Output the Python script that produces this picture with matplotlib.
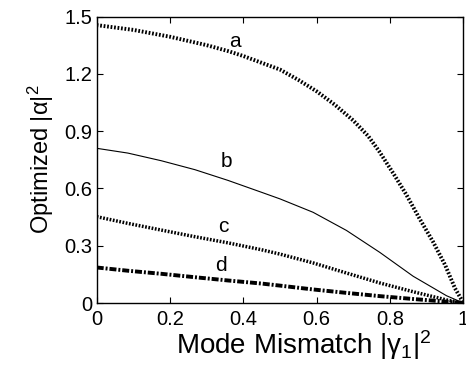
import numpy as np
import matplotlib.pyplot as plt

plt.rcParams['font.family'] = ['Liberation Sans', 'DejaVu Sans']
plt.rcParams['mathtext.fontset'] = 'custom'
plt.rcParams['mathtext.rm'] = 'Liberation Sans'
plt.rcParams['mathtext.it'] = 'Liberation Sans'

# values
x_a = [0, 0.1, 0.2, 0.3, 0.36, 0.4, 0.5, 0.55, 0.6, 0.65, 0.7, 0.74, 0.77,
       0.81, 0.845, 0.88, 0.917, 0.95, 0.977, 1.0]
y_a = [1.455, 1.43, 1.394, 1.35, 1.318, 1.293, 1.222, 1.168, 1.108, 1.037,
       0.955, 0.875, 0.795, 0.675, 0.565, 0.443, 0.321, 0.199, 0.077, 0.0]
x_b = [0, 0.085, 0.176, 0.268, 0.358, 0.449, 0.5, 0.59, 0.681, 0.772, 0.863, 0.954, 1.0]
y_b = [0.81, 0.785, 0.745, 0.698, 0.642, 0.58, 0.545, 0.475, 0.38, 0.265, 0.14, 0.038, 0.0]
x_c = [0, 0.085, 0.176, 0.268, 0.358, 0.449, 0.5, 0.59, 0.681, 0.772, 0.863, 0.954, 1.0]
y_c = [0.452, 0.417, 0.382, 0.347, 0.315, 0.279, 0.256, 0.21, 0.157, 0.105, 0.059, 0.016, 0.0]
x_d = [0, 0.085, 0.176, 0.268, 0.358, 0.449, 0.5, 0.59, 0.681, 0.772, 0.863, 0.954, 1.0]
y_d = [0.186, 0.169, 0.153, 0.135, 0.118, 0.102, 0.091, 0.071, 0.053, 0.036, 0.021, 0.007, 0.0]

labels = ['a', 'b', 'c', 'd']
label_pos = [(0.376, 1.368), (0.354, 0.74), (0.345, 0.40), (0.34, 0.199)]

fig = plt.figure(figsize=(4.66, 3.68), dpi=100)
ax = fig.add_axes([0.2075, 0.1766, 0.787, 0.7785])

ax.plot(x_a, y_a, color='black', lw=2.8, ls=(0, (0.45, 0.45)))
ax.plot(x_b, y_b, color='black', lw=0.8, ls='-')
ax.plot(x_c, y_c, color='black', lw=2.5, ls=(0, (0.5, 0.45)))
ax.plot(x_d, y_d, color='black', lw=2.8, ls=(0, (1.8, 0.5, 0.5, 0.5)))

for lab, (lx, ly) in zip(labels, label_pos):
    ax.text(lx, ly, lab, fontsize=15, ha='center', va='center')

ax.set_xlim(0, 1)
ax.set_ylim(0, 1.5)
ax.set_xticks([0, 0.2, 0.4, 0.6, 0.8, 1])
ax.set_xticklabels(['0', '0.2', '0.4', '0.6', '0.8', '1'])
ax.set_yticks([0, 0.3, 0.6, 0.9, 1.2, 1.5])
ax.set_yticklabels(['0', '0.3', '0.6', '0.9', '1.2', '1.5'])
ax.tick_params(direction='in', top=True, right=True, length=4.5, width=0.8,
               labelsize=14.5)
ax.tick_params(axis='y', pad=3)
ax.tick_params(axis='x', pad=5)
for s in ax.spines.values():
    s.set_linewidth(1.0)

ax.set_xlabel(r'Mode Mismatch $|\gamma_1|^2$', fontsize=20)
ax.xaxis.set_label_coords(0.565, -0.087)
ax.set_ylabel(r'Optimized $|\alpha|^2$', fontsize=17, labelpad=6)

fig.savefig('out.png', dpi=100)
